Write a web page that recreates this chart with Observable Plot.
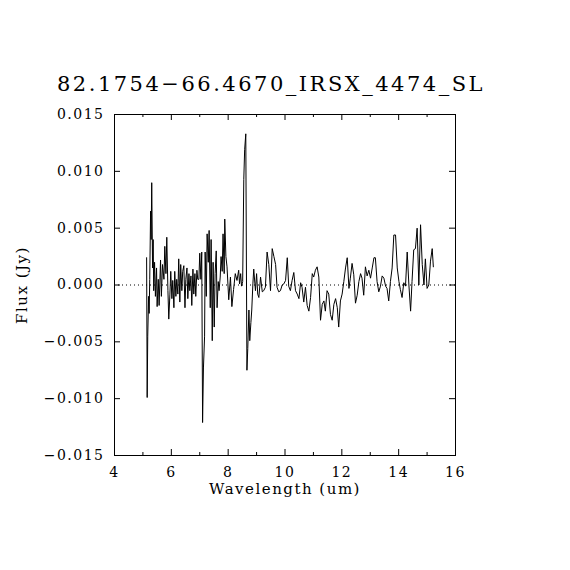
<!DOCTYPE html>
<html><head><meta charset="utf-8">
<script src="https://cdn.jsdelivr.net/npm/d3@7"></script>
<script src="https://cdn.jsdelivr.net/npm/@observablehq/plot@0.6"></script>
<style>
body{margin:0;background:#fff;}
#title{height:100px;width:570px;position:relative;font-family:"DejaVu Serif";}
#title span{position:absolute;left:-14px;width:570px;text-align:center;top:72px;font-size:21px;letter-spacing:2.5px;line-height:24px;white-space:nowrap;}
#chart svg text{letter-spacing:1.5px;}
</style></head><body>
<div id="title"><span>82.1754−66.4670_IRSX_4474_SL</span></div>
<div id="chart"></div>
<script>
const titleText = "82.1754−66.4670_IRSX_4474_SL";
const xLabel = "Wavelength (um)";
const yLabel = "Flux (Jy)";
const xMajorTicks = [4, 6, 8, 10, 12, 14, 16];
const xMinorTicks = [5, 7, 9, 11, 13, 15];
const yTicks = [-0.015, -0.010, -0.005, 0.000, 0.005, 0.010, 0.015];

const wavelength = [
5.13,5.15,5.17,5.20,5.22,5.24,5.27,5.29,5.31,5.34,5.36,5.38,5.41,5.44,5.48,5.50,5.54,5.57,5.62,5.65,
5.69,5.74,5.77,5.81,5.84,5.88,5.91,5.95,5.98,6.02,6.05,6.09,6.12,6.16,6.19,6.23,6.26,6.30,6.33,6.37,
6.40,6.44,6.48,6.51,6.55,6.58,6.62,6.65,6.69,6.72,6.76,6.79,6.83,6.86,6.90,6.93,6.97,7.00,7.04,7.07,
7.10,7.13,7.17,7.19,7.23,7.26,7.30,7.33,7.37,7.40,7.44,7.47,7.51,7.54,7.58,7.61,7.65,7.68,7.72,7.75,
7.79,7.82,7.86,7.88,7.92,7.96,8.02,
8.08,8.13,8.19,8.25,8.31,8.37,8.40,8.44,8.47,8.51,8.55,8.58,8.62,8.66,8.69,8.73,8.76,8.80,8.83,8.87,
8.90,8.96,9.00,9.04,9.08,9.14,9.20,9.25,9.31,9.37,9.43,9.49,9.55,9.61,9.67,9.72,9.78,9.84,9.90,9.96,
10.02,10.08,10.13,10.19,10.25,10.31,10.37,10.43,10.49,10.55,10.60,10.66,10.72,10.78,10.84,10.90,10.96,11.01,11.07,11.13,
11.19,11.25,11.31,11.37,11.42,11.48,11.54,11.60,11.66,11.72,11.78,11.84,11.89,11.95,12.01,12.07,12.13,12.19,12.25,12.30,
12.36,12.42,12.48,12.54,12.60,12.66,12.71,12.77,12.83,12.89,12.95,13.01,13.07,13.13,13.18,13.24,13.30,13.36,13.42,13.48,
13.54,13.59,13.65,13.71,13.77,13.83,13.89,13.95,14.01,14.06,14.12,14.18,14.24,14.30,14.36,14.42,14.47,14.53,14.59,14.65,
14.71,14.77,14.83,14.89,14.94,15.00,15.06,15.12,15.18,15.22
];
const flux = [
0.0024,-0.0099,-0.0045,-0.0010,-0.0025,0.0005,0.0065,0.0040,0.0090,0.0015,0.0040,-0.0005,0.0020,-0.0010,0.0015,-0.0019,0.0005,-0.0018,0.0022,-0.0010,
0.0018,0.0005,0.0034,0.0010,0.0042,-0.0005,-0.0030,-0.0008,0.0012,-0.0012,0.0004,-0.0020,0.0012,-0.0010,0.0005,-0.0008,0.0023,-0.0015,0.0018,-0.0005,
0.0012,0.0017,-0.0020,0.0005,0.0015,-0.0012,0.0010,-0.0005,0.0008,-0.0018,0.0014,-0.0008,0.0010,-0.0010,0.0013,0.0005,0.0005,0.0028,0.0005,0.0029,
-0.0121,-0.0073,-0.0045,0.0029,-0.0010,0.0045,0.0020,0.0048,-0.0020,0.0040,-0.0049,0.0020,-0.0037,0.0010,0.0030,-0.0020,0.0003,-0.0005,0.0007,0.0025,
0.0012,0.0045,0.0010,0.0058,0.0025,0.0016,-0.0013,
0.0007,-0.0019,-0.0004,0.0010,0.0004,0.0013,0.0001,0.0010,-0.0001,0.0003,0.0093,0.0119,0.0133,-0.0075,-0.0056,-0.0022,-0.0049,-0.0033,-0.0022,0.0001,
0.0014,-0.0005,0.0010,-0.0008,-0.0011,0.0007,-0.0006,-0.0005,-0.0002,0.0029,0.0018,-0.0005,0.0032,0.0025,0.0018,-0.0002,-0.0006,-0.0005,0.0000,0.0001,
0.0004,0.0024,-0.0001,-0.0005,0.0004,0.0011,-0.0005,-0.0008,-0.0012,0.0002,-0.0002,-0.0015,-0.0002,-0.0018,-0.0023,-0.0011,0.0010,0.0007,0.0013,0.0016,
0.0007,-0.0031,-0.0017,-0.0014,-0.0023,-0.0005,-0.0008,-0.0026,-0.0031,-0.0017,-0.0012,-0.0020,-0.0037,-0.0014,-0.0008,0.0003,0.0015,0.0024,-0.0003,0.0006,
0.0019,0.0009,-0.0016,-0.0009,0.0003,0.0010,0.0006,-0.0009,0.0016,0.0008,0.0013,0.0006,0.0015,0.0024,0.0024,0.0003,-0.0006,-0.0001,0.0008,0.0006,
-0.0001,-0.0003,-0.0014,0.0003,0.0015,0.0044,0.0044,0.0015,0.0003,-0.0004,-0.0011,0.0002,-0.0001,0.0029,0.0000,-0.0023,0.0003,0.0031,0.0032,0.0050,
0.0000,0.0053,0.0018,0.0000,0.0023,-0.0003,0.0000,0.0021,0.0032,0.0016
];

const data = wavelength.map((w, i) => ({w, f: flux[i]}));
const W = 570, H = 470, mt = 14, mb = 115, ml = 114, mr = 115;
const innerH = H - mt - mb, innerW = W - ml - mr;

const chart = Plot.plot({
  width: W, height: H,
  marginTop: mt, marginBottom: mb, marginLeft: ml, marginRight: mr,
  style: {fontFamily: "DejaVu Serif", fontSize: "14px", background: "white", color: "black"},
  x: {domain: [4, 16]},
  y: {domain: [-0.015, 0.015]},
  marks: [
    Plot.ruleY([0], {stroke: "black", strokeDasharray: "1,3"}),
    Plot.line(data, {x: "w", y: "f", stroke: "black", strokeWidth: 1}),
    Plot.frame({stroke: "black"}),
    Plot.ruleX(xMajorTicks, {insetTop: innerH - 6}),
    Plot.ruleX(xMajorTicks, {insetBottom: innerH - 6}),
    Plot.ruleX(xMinorTicks, {insetTop: innerH - 3}),
    Plot.ruleX(xMinorTicks, {insetBottom: innerH - 3}),
    Plot.ruleY(yTicks, {insetRight: innerW - 6}),
    Plot.ruleY(yTicks, {insetLeft: innerW - 6}),
    Plot.axisX({ticks: xMajorTicks, tickSize: 0, tickPadding: 12, label: null, tickFormat: d => String(d)}),
    Plot.axisY({ticks: yTicks, tickSize: 0, tickPadding: 10, label: null, tickFormat: d3.format(".3f")}),
    Plot.text([xLabel], {frameAnchor: "bottom", dy: 38, fontSize: 15, textAnchor: "middle"}),
    Plot.text([yLabel], {frameAnchor: "left", dx: -92, rotate: -90, fontSize: 15, textAnchor: "middle"})
  ]
});
document.getElementById("chart").appendChild(chart);
</script>
</body></html>
